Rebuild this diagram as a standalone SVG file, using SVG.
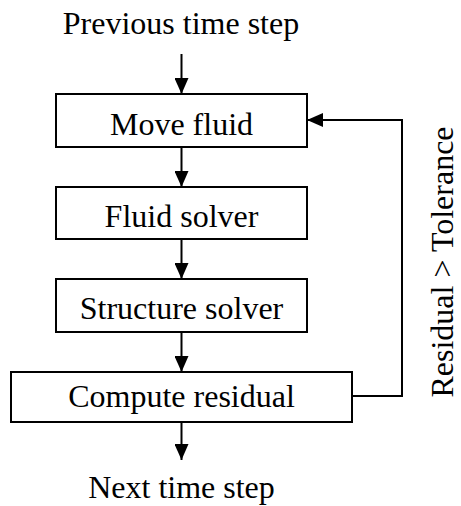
<svg xmlns="http://www.w3.org/2000/svg" width="461" height="506" viewBox="0 0 461 506">
<style>
text{font-family:'Liberation Serif','Times New Roman',serif;font-size:32px;fill:#000}
.box{fill:#fff;stroke:#000;stroke-width:2}
.ln{fill:none;stroke:#000;stroke-width:2}
</style>
<defs>
<marker id="ah" markerUnits="userSpaceOnUse" markerWidth="16" markerHeight="14" refX="16" refY="7" orient="auto">
<path d="M0,0 L16,7 L0,14 z" fill="#000"/>
</marker>
</defs>
<rect width="461" height="506" fill="#fff"/>
<g id="connectors">
<line class="ln" x1="181.5" y1="54" x2="181.5" y2="94" marker-end="url(#ah)"/>
<line class="ln" x1="181.5" y1="147" x2="181.5" y2="187" marker-end="url(#ah)"/>
<line class="ln" x1="181.5" y1="239" x2="181.5" y2="279" marker-end="url(#ah)"/>
<line class="ln" x1="181.5" y1="332" x2="181.5" y2="372" marker-end="url(#ah)"/>
<line class="ln" x1="181.5" y1="422" x2="181.5" y2="460" marker-end="url(#ah)"/>
<polyline class="ln" points="352,396 402,396 402,120 307,120" marker-end="url(#ah)"/>
</g>
<g id="prev"><text x="181" y="34" text-anchor="middle">Previous time step</text></g>
<g id="move"><rect class="box" x="56" y="94" width="251" height="53"/><text x="181.5" y="135" text-anchor="middle">Move fluid</text></g>
<g id="fluid"><rect class="box" x="56" y="187" width="251" height="52"/><text x="181.5" y="227" text-anchor="middle">Fluid solver</text></g>
<g id="structure"><rect class="box" x="56" y="279" width="251" height="53"/><text x="181.5" y="319" text-anchor="middle">Structure solver</text></g>
<g id="residual"><rect class="box" x="11" y="372" width="341" height="50"/><text x="181.5" y="407" text-anchor="middle">Compute residual</text></g>
<g id="next"><text x="181.5" y="498" text-anchor="middle">Next time step</text></g>
<g id="cond"><text transform="translate(453,262) rotate(-90)" text-anchor="middle">Residual &gt; Tolerance</text></g>
</svg>
